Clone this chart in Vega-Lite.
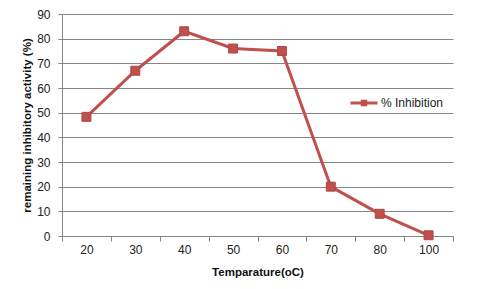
{
  "$schema": "https://vega.github.io/schema/vega-lite/v6.json",
  "width": 391,
  "height": 222,
  "autosize": "none",
  "padding": {"left": 62, "top": 14, "right": 28, "bottom": 53},
  "background": "white",
  "config": {
    "font": "Liberation Sans",
    "view": {"stroke": null},
    "axis": {"labelFont": "Liberation Sans", "titleFont": "Liberation Sans", "labelFontSize": 12, "titleFontSize": 11.5, "labelColor": "#222", "titleColor": "#111", "domainColor": "#868686", "tickColor": "#868686", "gridColor": "#868686"}
  },
  "data": {
    "values": [
      {"temp": "20", "value": 48.3},
      {"temp": "30", "value": 67},
      {"temp": "40", "value": 83},
      {"temp": "50", "value": 76},
      {"temp": "60", "value": 75},
      {"temp": "70", "value": 20},
      {"temp": "80", "value": 9},
      {"temp": "100", "value": 0.3}
    ]
  },
  "encoding": {
    "x": {
      "field": "temp", "type": "ordinal", "sort": null,
      "bandPosition": 0.5,
      "scale": {"type": "band", "paddingInner": 0, "paddingOuter": 0},
      "axis": {"title": "Temparature(oC)", "labelAngle": 0, "tickBand": "extent", "tickSize": 5, "labelPadding": 3, "titlePadding": 11, "grid": false, "titleFontWeight": "bold"}
    },
    "y": {
      "field": "value", "type": "quantitative",
      "scale": {"domain": [0, 90], "nice": false},
      "axis": {"title": "remaining inhibitory activity (%)", "values": [0,10,20,30,40,50,60,70,80,90], "tickSize": 4, "labelPadding": 8, "titlePadding": 4, "grid": true, "titleFontWeight": "bold"}
    }
  },
  "layer": [
    {"mark": {"type": "line", "color": "#C0504D", "strokeWidth": 3}},
    {
      "mark": {"type": "point", "shape": "square", "filled": true, "size": 80, "stroke": "#B04542", "strokeWidth": 1, "opacity": 1},
      "encoding": {
        "color": {
          "datum": "% Inhibition",
          "scale": {"range": ["#C0504D"]},
          "legend": {
            "title": null, "orient": "none", "legendX": 287, "legendY": 74,
            "symbolType": "M-1,0H1M-0.13,-0.13H0.13V0.13H-0.13Z",
            "symbolSize": 729,
            "symbolFillColor": "#C0504D", "symbolStrokeColor": "#C0504D", "symbolStrokeWidth": 3,
            "labelFontSize": 12, "labelFont": "Liberation Sans", "labelColor": "#222", "labelOffset": 2
          }
        }
      }
    }
  ]
}
